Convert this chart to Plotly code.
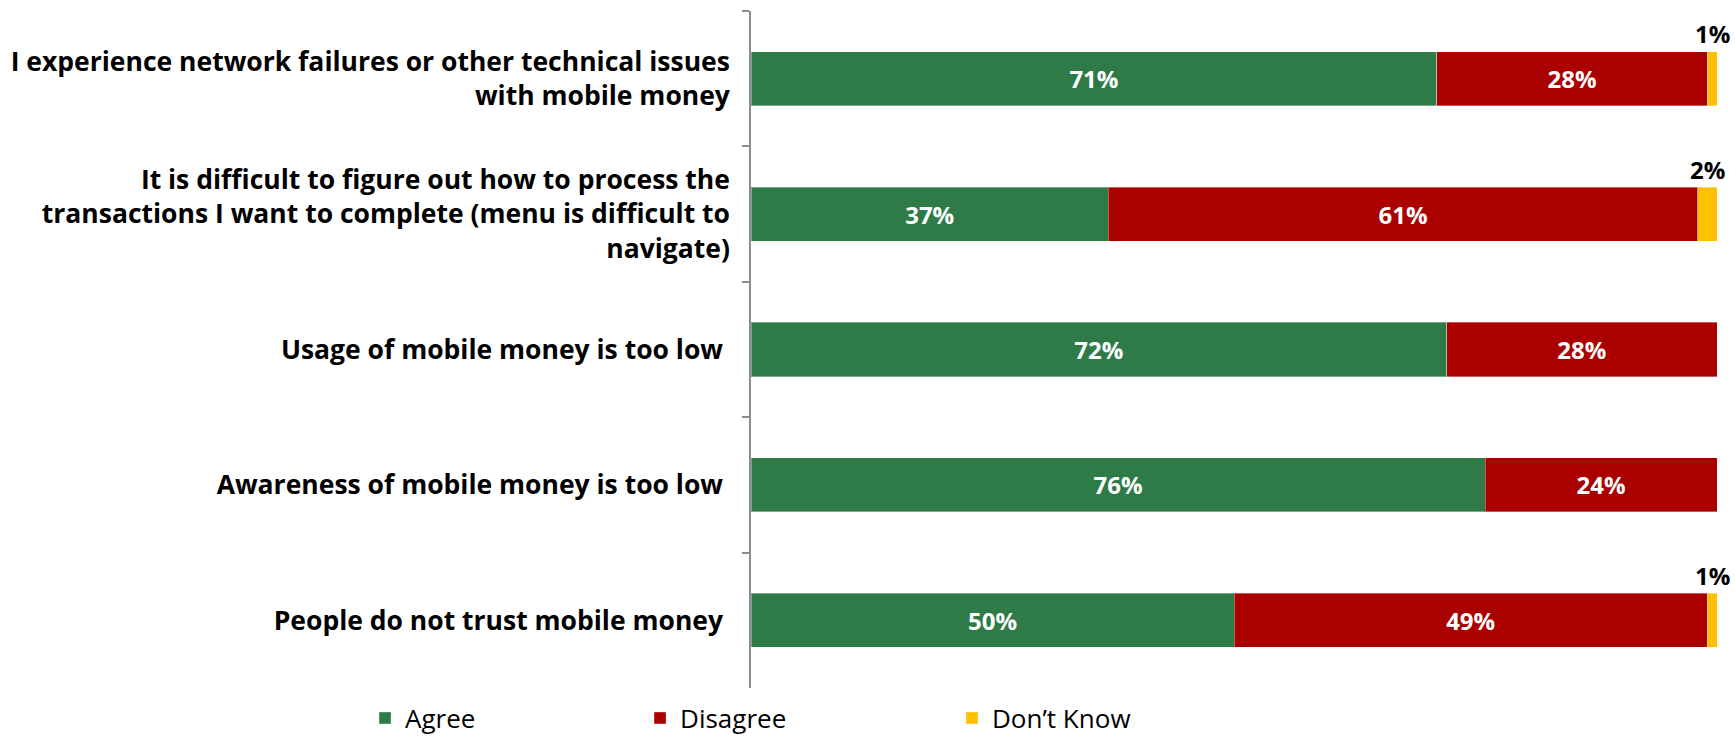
import plotly.graph_objects as go

categories = [
    "I experience network failures or other technical issues<br>with mobile money",
    "It is difficult to figure out how to process the<br>transactions I want to complete (menu is difficult to<br>navigate)",
    "Usage of mobile money is too low\u00a0",
    "Awareness of mobile money is too low\u00a0",
    "People do not trust mobile money\u00a0",
]
agree = [71, 37, 72, 76, 50]
disagree = [28, 61, 28, 24, 49]
dont_know = [1, 2, 0, 0, 1]

GREEN = "#2E7B47"
RED = "#AB0000"
YELLOW = "#FFC000"
FONT = "Open Sans, sans-serif"

fig = go.Figure()

def inside_text(vals):
    return [f"{v}%" if v > 0 else "" for v in vals]

series = [
    ("Agree", agree, GREEN, "legend"),
    ("Disagree", disagree, RED, "legend2"),
    ("Don\u2019t Know", dont_know, YELLOW, "legend3"),
]

for name, vals, color, leg in series:
    show_inside = name != "Don\u2019t Know"
    fig.add_trace(go.Bar(
        y=categories,
        x=vals,
        name=name,
        orientation="h",
        width=0.4,
        marker=dict(color=color, line=dict(color="rgba(255,255,255,0.35)", width=1)),
        text=inside_text(vals) if show_inside else None,
        textposition="inside" if show_inside else "none",
        insidetextanchor="middle",
        textfont=dict(family=FONT, size=24, color="white", weight="bold"),
        hoverinfo="skip",
        showlegend=True,
        legend=leg,
    ))

# small "Don't Know" shares are labelled just above their segment
for cat, a, d, k in zip(categories, agree, disagree, dont_know):
    if k > 0:
        fig.add_annotation(
            x=a + d + k / 2, y=cat,
            text=f"<b>{k}%</b>",
            showarrow=False,
            yshift=45,
            font=dict(family=FONT, size=24, color="black"),
        )

legend_style = dict(
    orientation="h", xref="container", yref="container",
    y=0.027, xanchor="left", yanchor="middle",
    font=dict(family=FONT, size=26, color="black"),
    bgcolor="rgba(0,0,0,0)",
)

fig.update_layout(
    barmode="stack",
    width=1735, height=738,
    showlegend=True,
    margin=dict(l=751, r=18, t=11, b=50, autoexpand=False),
    plot_bgcolor="white",
    paper_bgcolor="white",
    font=dict(family=FONT),
    xaxis=dict(range=[0, 100], visible=False, fixedrange=True),
    yaxis=dict(
        categoryorder="array",
        categoryarray=categories,
        autorange="reversed",
        automargin=False,
        showline=True,
        linecolor="#8C8C8C",
        linewidth=1.5,
        ticks="outside",
        tickson="boundaries",
        ticklen=7,
        tickcolor="#8C8C8C",
        tickwidth=1.5,
        ticklabelstandoff=14,
        tickfont=dict(family=FONT, size=26.5, color="black", weight="bold"),
        showgrid=False,
        zeroline=False,
    ),
    legend=dict(legend_style, x=0.2104),
    legend2=dict(legend_style, x=0.3689),
    legend3=dict(legend_style, x=0.5487),
)

fig.write_html("out.html")
